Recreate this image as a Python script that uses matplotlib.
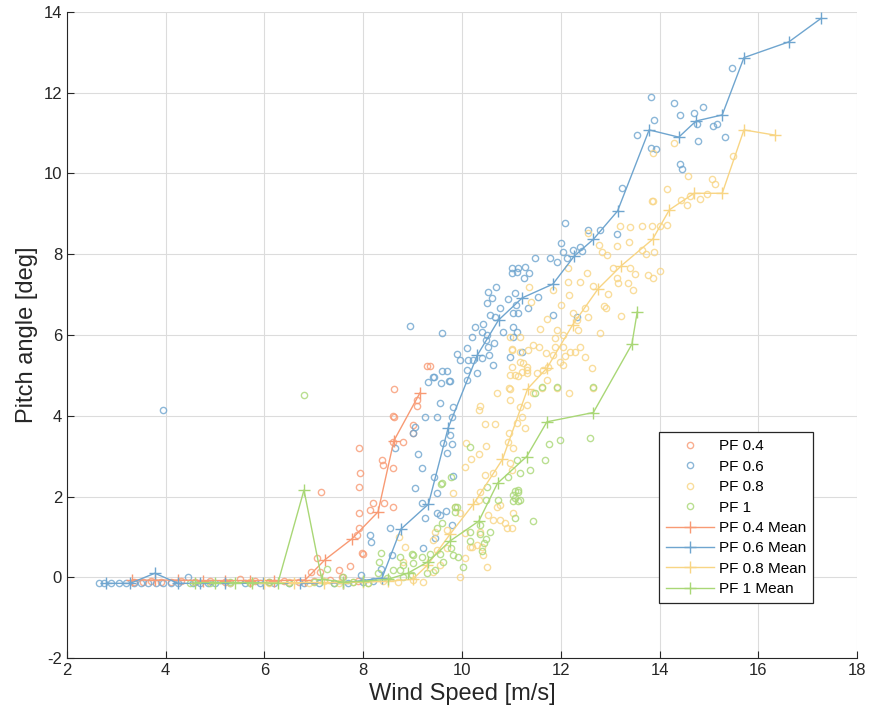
"""
Pitch angle vs wind speed for different power factor settings
scatter of the raw samples + binned mean curves
"""

import numpy as np
import matplotlib.pyplot as plt

# raw samples (wind speed [m/s], pitch angle [deg])
pf04_pts = [
    (3.35, -0.12), (3.55, -0.12), (3.7, -0.1), (3.9, -0.12), (4.1, -0.12), (4.3, -0.1),
    (4.6, -0.12), (4.9, -0.1), (5.2, -0.12), (5.5, -0.05), (5.8, -0.1), (6.1, -0.12),
    (6.4, -0.1), (6.7, -0.12), (7.0, -0.1), (7.33, -0.07), (7.57, 0.0), (7.9, -0.1),
    (6.94, 0.12), (7.12, 0.12), (7.51, 0.17), (7.73, 0.27), (7.06, 0.48), (7.97, 0.6),
    (7.99, 0.58), (7.87, 1.05), (7.91, 1.22), (7.91, 1.59), (8.14, 1.67), (8.2, 1.84),
    (8.42, 1.84), (8.6, 1.74), (7.14, 2.11), (7.91, 2.23), (7.93, 2.58), (8.38, 2.9),
    (8.4, 2.78), (8.6, 2.71), (7.91, 3.2), (8.6, 3.35), (8.8, 3.35), (9.01, 3.57),
    (9.01, 3.77), (8.6, 3.99), (8.62, 3.97), (9.09, 4.24), (9.09, 4.39), (8.62, 4.66),
    (9.29, 5.23), (9.35, 5.23),
]

pf06_pts = [
    (2.65, -0.15), (2.75, -0.15), (2.9, -0.15), (3.05, -0.15), (3.2, -0.15), (3.35, -0.15),
    (3.5, -0.15), (3.65, -0.15), (3.8, -0.15), (3.95, -0.15), (4.1, -0.15), (4.25, -0.15),
    (4.45, 0.0), (4.55, -0.15), (4.7, -0.15), (4.85, -0.15), (5.0, -0.15), (5.3, -0.15),
    (5.6, -0.15), (5.9, -0.15), (6.2, -0.15), (6.5, -0.15), (6.8, -0.15), (7.1, -0.15),
    (7.4, -0.15), (7.7, -0.15), (8.0, -0.12), (7.95, 0.05), (8.2, -0.1), (8.35, 0.2),
    (3.95, 4.15),
    (8.58, 0.55), (9.21, 0.72), (9.45, 0.97), (8.14, 1.05), (8.16, 0.87), (8.54, 1.22),
    (9.8, 1.29), (9.25, 1.47), (9.49, 1.6), (9.55, 1.54), (9.68, 1.64), (9.19, 1.84),
    (9.49, 2.08), (9.05, 2.21), (9.43, 2.49), (9.81, 2.51), (9.19, 2.71), (9.11, 3.05),
    (9.69, 3.07), (8.64, 3.2), (9.62, 3.33), (9.8, 3.3), (9.76, 3.52), (9.01, 3.57),
    (9.05, 3.72), (9.25, 3.97), (9.49, 3.97), (9.8, 3.97), (9.82, 4.22), (9.55, 4.31),
    (9.31, 4.84), (9.43, 4.96), (9.57, 4.81), (9.76, 4.86), (9.59, 5.11), (9.69, 5.11),
    (10.1, 4.89), (9.41, 4.96), (9.74, 4.86), (10.3, 5.06), (10.1, 5.14), (10.22, 5.38),
    (9.96, 5.38), (10.12, 5.38), (10.63, 5.26), (9.9, 5.53), (10.4, 5.43), (10.55, 5.5),
    (10.97, 5.46), (11.22, 5.58), (10.1, 5.68), (10.53, 5.7), (10.2, 5.95), (10.49, 5.88),
    (10.65, 5.8), (10.4, 6.07), (10.83, 6.07), (11.11, 6.07), (10.26, 6.2), (10.43, 6.27),
    (11.03, 6.2), (10.57, 6.5), (10.67, 6.45), (11.84, 6.5), (12.33, 6.45), (11.03, 6.54),
    (11.13, 6.54), (10.51, 6.79), (10.77, 6.67), (11.09, 6.74), (11.34, 6.67), (10.93, 6.89),
    (10.61, 6.92), (11.54, 6.94), (11.07, 7.04), (10.53, 7.07), (10.69, 7.19), (11.26, 7.41),
    (11.01, 7.54), (11.11, 7.56), (11.36, 7.54), (11.01, 7.66), (11.13, 7.66), (11.28, 7.68),
    (11.48, 7.91), (11.78, 7.91), (11.92, 7.81), (12.13, 7.91), (12.05, 8.05), (12.25, 8.1),
    (12.43, 8.08), (12.0, 8.27), (12.39, 8.18), (12.55, 8.6), (12.79, 8.6), (13.14, 8.5),
    (12.09, 8.77), (13.24, 9.64), (8.95, 6.22), (9.6, 6.05), (10.51, 6.0), (11.03, 5.95),
    (14.42, 10.24), (14.46, 10.11), (13.83, 10.63), (13.93, 10.6), (14.78, 10.8),
    (15.33, 10.9), (13.54, 10.95), (15.09, 11.18), (15.16, 11.22), (14.76, 11.22),
    (13.89, 11.33), (14.42, 11.45), (14.69, 11.5), (14.89, 11.65), (14.29, 11.75),
    (13.83, 11.9), (15.47, 12.61),
]

pf08_pts = [
    (5.3, -0.15), (5.7, -0.12), (6.1, -0.15), (6.5, -0.12), (6.9, -0.15), (7.2, -0.1),
    (7.5, -0.15), (7.8, -0.12), (8.1, -0.15), (8.4, -0.1), (8.7, -0.12), (9.01, -0.07),
    (9.21, -0.12), (9.41, 0.12), (9.55, 0.3), (8.81, 0.37), (9.96, 0.0), (10.51, 0.25),
    (10.06, 0.47), (10.43, 0.54), (9.49, 0.67), (8.85, 0.74), (10.16, 0.74), (10.2, 0.74),
    (10.4, 0.74), (9.7, 0.72), (9.41, 0.92), (8.72, 0.99), (10.3, 0.8), (10.06, 1.09),
    (9.45, 1.12), (9.7, 1.17), (10.36, 1.12), (10.91, 1.22), (11.01, 1.22), (10.87, 1.34),
    (10.63, 1.42), (10.77, 1.42), (10.53, 1.54), (11.03, 1.59), (9.96, 1.59), (9.86, 1.74),
    (10.71, 1.74), (10.77, 1.79), (10.34, 1.91), (9.82, 2.09), (10.36, 2.11), (10.47, 2.53),
    (10.63, 2.58), (11.01, 2.65), (10.06, 2.73), (10.97, 2.83), (10.18, 2.92), (10.34, 3.05),
    (11.03, 3.2), (10.49, 3.25), (10.08, 3.33), (10.93, 3.35), (10.95, 3.57), (11.28, 3.7),
    (10.47, 3.8), (10.67, 3.8), (11.11, 3.82), (11.22, 3.97), (10.34, 4.14), (10.36, 4.24),
    (11.17, 4.22), (11.32, 4.27), (10.97, 4.39), (10.71, 4.56), (11.44, 4.56), (12.17, 4.56),
    (10.95, 4.69), (11.62, 4.69), (11.92, 4.69), (12.65, 4.69), (10.97, 4.66), (11.72, 4.89),
    (11.13, 4.98), (10.97, 5.01), (11.07, 5.01), (11.32, 5.06), (11.52, 5.06), (11.22, 5.08),
    (11.64, 5.13), (11.32, 5.13), (12.63, 5.18), (11.01, 5.21), (11.32, 5.21), (11.74, 5.21),
    (12.05, 5.26), (11.24, 5.31), (11.17, 5.33), (11.98, 5.33), (12.49, 5.46), (12.09, 5.48),
    (11.84, 5.5), (11.7, 5.55), (11.17, 5.58), (12.19, 5.58), (12.29, 5.58), (11.01, 5.63),
    (11.34, 5.63), (11.01, 5.65), (11.56, 5.7), (11.88, 5.71), (12.05, 5.71), (12.39, 5.71),
    (11.44, 5.75), (11.88, 5.93), (10.97, 5.95), (11.17, 5.95), (12.05, 6.0), (12.79, 6.05),
    (11.58, 6.15), (11.92, 6.12), (12.35, 6.12), (12.33, 6.37), (11.72, 6.4), (12.55, 6.45),
    (13.22, 6.47), (12.25, 6.54), (12.49, 6.67), (12.91, 6.67), (12.87, 6.72), (12.0, 6.74),
    (11.4, 6.82), (12.17, 6.99), (12.96, 7.02), (11.84, 7.11), (13.46, 7.11), (11.36, 7.19),
    (12.65, 7.21), (13.16, 7.29), (13.36, 7.29), (12.15, 7.31), (12.39, 7.31), (13.14, 7.41),
    (13.87, 7.41), (13.77, 7.49), (13.5, 7.51), (12.53, 7.54), (14.01, 7.59), (12.15, 7.66),
    (13.06, 7.66), (13.4, 7.66), (12.94, 7.98), (13.73, 8.01), (12.83, 8.06), (13.89, 8.06),
    (13.65, 8.11), (13.14, 8.2), (12.77, 8.23), (13.38, 8.3), (12.55, 8.53), (13.2, 8.7),
    (13.4, 8.67), (13.65, 8.7), (13.85, 8.7), (14.01, 8.7), (14.15, 8.72), (14.56, 9.22),
    (13.85, 9.32), (13.87, 9.32), (14.43, 9.35), (14.82, 9.37), (14.62, 9.44), (14.96, 9.49),
    (14.15, 9.62), (15.12, 9.74), (15.06, 9.86), (14.58, 9.94), (15.49, 10.43), (13.87, 10.5),
    (14.29, 10.75),
]

pf1_pts = [
    (4.5, -0.15), (4.9, -0.15), (5.3, -0.12), (5.7, -0.15), (6.1, -0.12), (6.5, -0.15),
    (7.0, -0.12), (7.4, -0.15), (7.6, 0.0), (7.8, -0.12), (8.1, -0.15), (8.3, 0.1),
    (8.48, -0.02), (8.81, 0.0), (8.99, 0.05), (9.29, 0.1), (8.6, 0.17), (8.74, 0.17),
    (9.45, 0.17), (7.27, 0.2), (8.81, 0.3), (9.01, 0.35), (8.32, 0.37), (9.61, 0.37),
    (8.74, 0.5), (9.19, 0.5), (9.92, 0.5), (8.36, 0.6), (9.01, 0.54), (9.82, 0.54),
    (8.99, 0.57), (9.35, 0.57), (9.55, 0.57), (10.02, 0.25), (10.4, 0.65), (9.78, 0.72),
    (10.45, 0.85), (10.16, 0.9), (10.49, 0.95), (10.36, 1.07), (10.57, 1.12), (10.16, 1.12),
    (9.49, 1.22), (10.36, 1.29), (9.59, 1.34), (11.44, 1.39), (11.07, 1.47), (9.86, 1.62),
    (9.86, 1.74), (9.9, 1.74), (11.03, 1.89), (11.13, 1.89), (10.49, 1.91), (10.73, 1.91),
    (11.17, 1.91), (11.07, 1.96), (11.03, 2.04), (11.13, 2.11), (11.07, 2.14), (11.13, 2.16),
    (10.51, 2.23), (9.57, 2.31), (9.59, 2.33), (10.93, 2.48), (9.78, 2.48), (11.17, 2.58),
    (11.38, 2.66), (11.68, 2.9), (11.11, 2.9), (10.16, 3.23), (11.76, 3.3), (11.98, 3.4),
    (12.59, 3.45), (11.48, 4.56), (11.62, 4.72), (11.92, 4.72), (12.65, 4.72), (6.8, 4.51),
]

# binned mean curves
pf04_mean_x = [3.32, 3.78, 4.25, 4.75, 5.2, 5.7, 6.2, 6.82, 7.23, 7.77, 8.3, 8.62, 9.15]
pf04_mean_y = [-0.07, -0.07, -0.07, -0.08, -0.08, -0.08, -0.08, -0.07, 0.44, 0.95, 1.62, 3.38, 4.57]

pf06_mean_x = [2.8, 3.28, 3.78, 4.25, 4.7, 5.2, 5.97, 6.72, 7.6, 8.38, 8.76, 9.32, 9.72,
               10.31, 10.74, 11.22, 11.84, 12.27, 12.66, 13.15, 13.79, 14.39, 14.74, 15.27,
               15.71, 16.62, 17.27]
pf06_mean_y = [-0.15, -0.15, 0.1, -0.15, -0.15, -0.15, -0.15, -0.15, -0.14, -0.02, 1.19, 1.81, 3.7,
               5.5, 6.37, 6.92, 7.26, 7.95, 8.37, 9.07, 11.08, 10.9, 11.3, 11.45,
               12.87, 13.26, 13.84]

pf08_mean_x = [6.0, 6.6, 7.2, 7.6, 8.0, 8.5, 9.0, 9.3, 9.76, 10.23, 10.82, 11.33, 11.72, 12.24,
               12.76, 13.23, 13.86, 14.2, 14.7, 15.27, 15.71, 16.34]
pf08_mean_y = [-0.13, -0.13, -0.13, -0.13, -0.12, -0.1, -0.05, 0.3, 1.07, 1.81, 2.92, 4.67, 5.18, 6.25,
               7.15, 7.72, 8.37, 9.1, 9.51, 9.51, 11.08, 10.95]

pf1_mean_x = [4.6, 5.0, 5.4, 5.75, 6.27, 6.8, 7.16, 7.6, 8.0, 8.5, 8.9, 9.32, 9.76, 10.34,
              10.72, 11.31, 11.72, 12.66, 13.44, 13.55]
pf1_mean_y = [-0.13, -0.13, -0.13, -0.13, -0.15, 2.16, -0.05, -0.12, -0.1, -0.05, 0.1, 0.39, 0.9, 1.39,
              2.33, 2.99, 3.85, 4.08, 5.77, 6.58]

labels = ["PF 0.4", "PF 0.6", "PF 0.8", "PF 1"]
colors = ["#f89a74", "#6fa5cf", "#f8d584", "#a9d776"]

plt.rcParams['font.family'] = ['Liberation Sans', 'DejaVu Sans']
plt.rcParams['axes.unicode_minus'] = False

fig = plt.figure(figsize=(8.73, 7.22), dpi=100)
ax = fig.add_axes([0.0767, 0.0886, 0.905, 0.8948])

#scatter of raw data
for pts, c, lab in zip([pf04_pts, pf06_pts, pf08_pts, pf1_pts], colors, labels):
    arr = np.array(pts)
    ax.plot(arr[:, 0], arr[:, 1], 'o', mfc='none', mec=c, ms=4.5, mew=1.0, alpha=0.8, label=lab)

#mean curves
means = [(pf04_mean_x, pf04_mean_y), (pf06_mean_x, pf06_mean_y),
         (pf08_mean_x, pf08_mean_y), (pf1_mean_x, pf1_mean_y)]
for (mx, my), c, lab in zip(means, colors, labels):
    ax.plot(mx, my, '-+', color=c, ms=9, mew=1.0, lw=1.0, label=lab + " Mean")

ax.set_xlim(2, 18)
ax.set_ylim(-2, 14)
ax.set_xticks(range(2, 19, 2))
ax.set_yticks(range(-2, 15, 2))
ax.grid(True, color='#dcdcdc', lw=0.8)
ax.set_axisbelow(True)
ax.spines['top'].set_visible(False)
ax.spines['right'].set_visible(False)
for s in ['left', 'bottom']:
    ax.spines[s].set_color('#262626')
ax.tick_params(direction='in', length=5, labelsize=12, colors='#262626')
ax.set_xlabel('Wind Speed [m/s]', fontsize=17, color='#262626', labelpad=4)
ax.set_ylabel('Pitch angle [deg]', fontsize=17, color='#262626', labelpad=4)

leg = ax.legend(loc='lower left', bbox_to_anchor=(0.749, 0.085), borderaxespad=0, fontsize=11,
                handlelength=3.2, borderpad=0.45, labelspacing=0.42, handletextpad=0.3,
                fancybox=False, edgecolor='#262626', framealpha=1)
leg.get_frame().set_linewidth(0.9)

plt.savefig("out.png", dpi=100)
plt.close()
